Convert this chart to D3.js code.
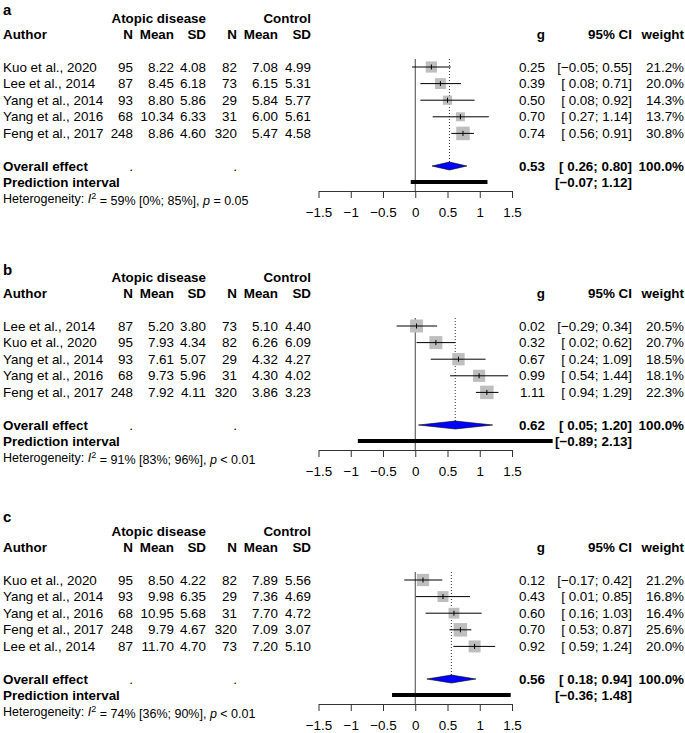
<!DOCTYPE html>
<html>
<head>
<meta charset="utf-8">
<script src="https://cdn.jsdelivr.net/npm/d3@7"></script>
<style>
  body { margin: 0; background: #fff; }
  text { font-family: "Liberation Sans", Arial, Helvetica, sans-serif; }
</style>
</head>
<body>
<script>
/////////////////////////////// data: panel a
var authorsA = ["Kuo et al., 2020", "Lee et al., 2014", "Yang et al., 2014", "Yang et al., 2016", "Feng et al., 2017"];
var nExpA = [95, 87, 93, 68, 248];
var meanExpA = [8.22, 8.45, 8.8, 10.34, 8.86];
var sdExpA = [4.08, 6.18, 5.86, 6.33, 4.6];
var nCtrlA = [82, 73, 29, 31, 320];
var meanCtrlA = [7.08, 6.15, 5.84, 6.0, 5.47];
var sdCtrlA = [4.99, 5.31, 5.77, 5.61, 4.58];
var gA = [0.25, 0.39, 0.5, 0.7, 0.74];
var lowA = [-0.05, 0.08, 0.08, 0.27, 0.56];
var upA = [0.55, 0.71, 0.92, 1.14, 0.91];
var weightA = [21.2, 20.0, 14.3, 13.7, 30.8];
var pooledA = [0.53, 0.26, 0.8];
var predA = [-0.07, 1.12];
var hetA = ["59%", "[0%; 85%]", "= 0.05"];

/////////////////////////////// data: panel b
var authorsB = ["Lee et al., 2014", "Kuo et al., 2020", "Yang et al., 2014", "Yang et al., 2016", "Feng et al., 2017"];
var nExpB = [87, 95, 93, 68, 248];
var meanExpB = [5.2, 7.93, 7.61, 9.73, 7.92];
var sdExpB = [3.8, 4.34, 5.07, 5.96, 4.11];
var nCtrlB = [73, 82, 29, 31, 320];
var meanCtrlB = [5.1, 6.26, 4.32, 4.3, 3.86];
var sdCtrlB = [4.4, 6.09, 4.27, 4.02, 3.23];
var gB = [0.02, 0.32, 0.67, 0.99, 1.11];
var lowB = [-0.29, 0.02, 0.24, 0.54, 0.94];
var upB = [0.34, 0.62, 1.09, 1.44, 1.29];
var weightB = [20.5, 20.7, 18.5, 18.1, 22.3];
var pooledB = [0.62, 0.05, 1.2];
var predB = [-0.89, 2.13];
var hetB = ["91%", "[83%; 96%]", "< 0.01"];

/////////////////////////////// data: panel c
var authorsC = ["Kuo et al., 2020", "Yang et al., 2014", "Yang et al., 2016", "Feng et al., 2017", "Lee et al., 2014"];
var nExpC = [95, 93, 68, 248, 87];
var meanExpC = [8.5, 9.98, 10.95, 9.79, 11.7];
var sdExpC = [4.22, 6.35, 5.68, 4.67, 4.7];
var nCtrlC = [82, 29, 31, 320, 73];
var meanCtrlC = [7.89, 7.36, 7.7, 7.09, 7.2];
var sdCtrlC = [5.56, 4.69, 4.72, 3.07, 5.1];
var gC = [0.12, 0.43, 0.6, 0.7, 0.92];
var lowC = [-0.17, 0.01, 0.16, 0.53, 0.59];
var upC = [0.42, 0.85, 1.03, 0.87, 1.24];
var weightC = [21.2, 16.8, 16.4, 25.6, 20.0];
var pooledC = [0.56, 0.18, 0.94];
var predC = [-0.36, 1.48];
var hetC = ["74%", "[36%; 90%]", "< 0.01"];

var axisTicks = [-1.5, -1, -0.5, 0, 0.5, 1, 1.5];

/////////////////////////////// panels
var panels = [
  { label: "a", top: 18, labelDy: -3, authors: authorsA, nE: nExpA, mE: meanExpA, sE: sdExpA, nC: nCtrlA, mC: meanCtrlA, sC: sdCtrlA, g: gA, lo: lowA, up: upA, w: weightA, pooled: pooledA, pred: predA, het: hetA },
  { label: "b", top: 277, labelDy: -2, authors: authorsB, nE: nExpB, mE: meanExpB, sE: sdExpB, nC: nCtrlB, mC: meanCtrlB, sC: sdCtrlB, g: gB, lo: lowB, up: upB, w: weightB, pooled: pooledB, pred: predB, het: hetB },
  { label: "c", top: 531, labelDy: -9, authors: authorsC, nE: nExpC, mE: meanExpC, sE: sdExpC, nC: nCtrlC, mC: meanCtrlC, sC: sdCtrlC, g: gC, lo: lowC, up: upC, w: weightC, pooled: pooledC, pred: predC, het: hetC },
];

var width = 685, height = 733;
var fs = 13.4, rowH = 16.6;

// column right edges
var col = { author: 3, nE: 133, mE: 174, sE: 206, nC: 237, mC: 278, sC: 311, g: 545, ci: 632, w: 684 };

var x = d3.scaleLinear().domain([-1.5, 1.5]).range([318.5, 512]);

function fmt(v) {
  return v.toFixed(2).replace("-", "\u2212");
}
function ci(lo, hi) {
  return "[" + (lo < 0 ? fmt(lo) : "\u00A0" + fmt(lo)) + "; " + fmt(hi) + "]";
}

let svg = d3.select("body").append("svg").attr("width", width).attr("height", height);

function txt(g, xx, yy, s, anchor, bold, size) {
  return g
    .append("text")
    .attr("x", xx)
    .attr("y", yy)
    .attr("dy", "0.35em")
    .attr("text-anchor", anchor || "end")
    .style("font-size", (size || fs) + "px")
    .style("font-weight", bold ? "bold" : "normal")
    .text(s);
}

panels.forEach(function (p) {
  let g = svg.append("g").attr("class", "panel");
  var H = p.top;
  var rowY = function (i) { return H + 49 + i * rowH; };
  var yOverall = H + 148, yPred = H + 164, yHet = H + 181, yAxis = H + 173;

  // panel label
  g.append("text")
    .attr("x", 3)
    .attr("y", H + p.labelDy)
    .style("font-size", "15px")
    .style("font-weight", "bold")
    .text(p.label);

  // headers
  txt(g, col.sE, H, "Atopic disease", "end", true);
  txt(g, col.sC, H, "Control", "end", true);
  txt(g, col.author, H + 16, "Author", "start", true);
  [["nE", "N"], ["mE", "Mean"], ["sE", "SD"], ["nC", "N"], ["mC", "Mean"], ["sC", "SD"], ["g", "g"], ["ci", "95% CI"], ["w", "weight"]].forEach(function (h) {
    txt(g, col[h[0]], H + 16, h[1], "end", true);
  });

  // study rows (text)
  p.authors.forEach(function (a, i) {
    var y = rowY(i);
    txt(g, col.author, y, a, "start");
    txt(g, col.nE, y, String(p.nE[i]));
    txt(g, col.mE, y, p.mE[i].toFixed(2));
    txt(g, col.sE, y, p.sE[i].toFixed(2));
    txt(g, col.nC, y, String(p.nC[i]));
    txt(g, col.mC, y, p.mC[i].toFixed(2));
    txt(g, col.sC, y, p.sC[i].toFixed(2));
    txt(g, col.g, y, fmt(p.g[i]));
    txt(g, col.ci, y, ci(p.lo[i], p.up[i]));
    txt(g, col.w, y, p.w[i].toFixed(1) + "%");
  });

  // overall + prediction text
  txt(g, col.author, yOverall, "Overall effect", "start", true);
  txt(g, col.nE, yOverall, ".");
  txt(g, col.nC, yOverall, ".");
  txt(g, col.g, yOverall, fmt(p.pooled[0]), "end", true);
  txt(g, col.ci, yOverall, ci(p.pooled[1], p.pooled[2]), "end", true);
  txt(g, col.w, yOverall, "100.0%", "end", true);
  txt(g, col.author, yPred, "Prediction interval", "start", true);

  // heterogeneity
  let het = g.append("text")
    .attr("x", col.author)
    .attr("y", yHet)
    .attr("dy", "0.35em")
    .style("font-size", "12.5px");
  het.append("tspan").text("Heterogeneity: ");
  het.append("tspan").style("font-style", "italic").text("I");
  het.append("tspan").attr("dy", "-0.45em").style("font-size", "9px").text("2");
  het.append("tspan").attr("dy", "0.45em").text(" = " + p.het[0] + " " + p.het[1] + ", ");
  het.append("tspan").style("font-style", "italic").text("p");
  het.append("tspan").text(" " + p.het[2]);

  // zero line
  g.append("line")
    .attr("x1", x(0)).attr("x2", x(0))
    .attr("y1", H + 41).attr("y2", yAxis)
    .attr("stroke", "#444").attr("stroke-width", 1);

  // pooled dotted line
  g.append("line")
    .attr("x1", x(p.pooled[0])).attr("x2", x(p.pooled[0]))
    .attr("y1", H + 41).attr("y2", yOverall - 4)
    .attr("stroke", "#000").attr("stroke-width", 0.8)
    .attr("stroke-dasharray", "1,2");

  // squares sized by weight
  var size = d3.scaleSqrt().domain([0, d3.max(p.w)]).range([0, 13.5]);
  g.selectAll(".sq")
    .data(p.g)
    .enter()
    .append("rect")
    .attr("class", "sq")
    .attr("x", (d, i) => x(d) - size(p.w[i]) / 2)
    .attr("y", (d, i) => rowY(i) - size(p.w[i]) / 2)
    .attr("width", (d, i) => size(p.w[i]))
    .attr("height", (d, i) => size(p.w[i]))
    .attr("fill", "#bebebe");

  // CI lines
  g.selectAll(".ci")
    .data(p.g)
    .enter()
    .append("line")
    .attr("class", "ci")
    .attr("x1", (d, i) => x(p.lo[i]))
    .attr("x2", (d, i) => x(p.up[i]))
    .attr("y1", (d, i) => rowY(i))
    .attr("y2", (d, i) => rowY(i))
    .attr("stroke", "#000")
    .attr("stroke-width", 1);

  g.selectAll(".est")
    .data(p.g)
    .enter()
    .append("line")
    .attr("class", "est")
    .attr("x1", (d) => x(d))
    .attr("x2", (d) => x(d))
    .attr("y1", (d, i) => rowY(i) - 2.5)
    .attr("y2", (d, i) => rowY(i) + 2.5)
    .attr("stroke", "#000")
    .attr("stroke-width", 1);

  // diamond
  var dh = 4;
  g.append("path")
    .attr("d",
      "M" + x(p.pooled[1]) + "," + yOverall +
      "L" + x(p.pooled[0]) + "," + (yOverall - dh) +
      "L" + x(p.pooled[2]) + "," + yOverall +
      "L" + x(p.pooled[0]) + "," + (yOverall + dh) + "Z")
    .attr("fill", "#0000ff")
    .attr("stroke", "#000")
    .attr("stroke-width", 0.6);

  // prediction interval bar
  g.append("rect")
    .attr("x", x(p.pred[0]))
    .attr("y", yPred - 2)
    .attr("width", x(p.pred[1]) - x(p.pred[0]))
    .attr("height", 4)
    .attr("fill", "#000");
  txt(g, col.ci, yPred, ci(p.pred[0], p.pred[1]), "end", true);

  // axis
  let ax = g.append("g")
    .attr("transform", "translate(0," + yAxis + ")")
    .call(
      d3.axisBottom(x)
        .tickValues(axisTicks)
        .tickFormat((d) => String(d).replace("-", "\u2212"))
        .tickSize(7)
        .tickSizeOuter(0)
        .tickPadding(9.5)
    );
  ax.select(".domain").attr("stroke", "#333");
  ax.selectAll(".tick line").attr("stroke", "#333");
  ax.selectAll(".tick text")
    .style("font-size", fs + "px")
    .style("font-family", "'Liberation Sans', Arial, Helvetica, sans-serif")
    .attr("fill", "#000");
});
</script>
</body>
</html>
